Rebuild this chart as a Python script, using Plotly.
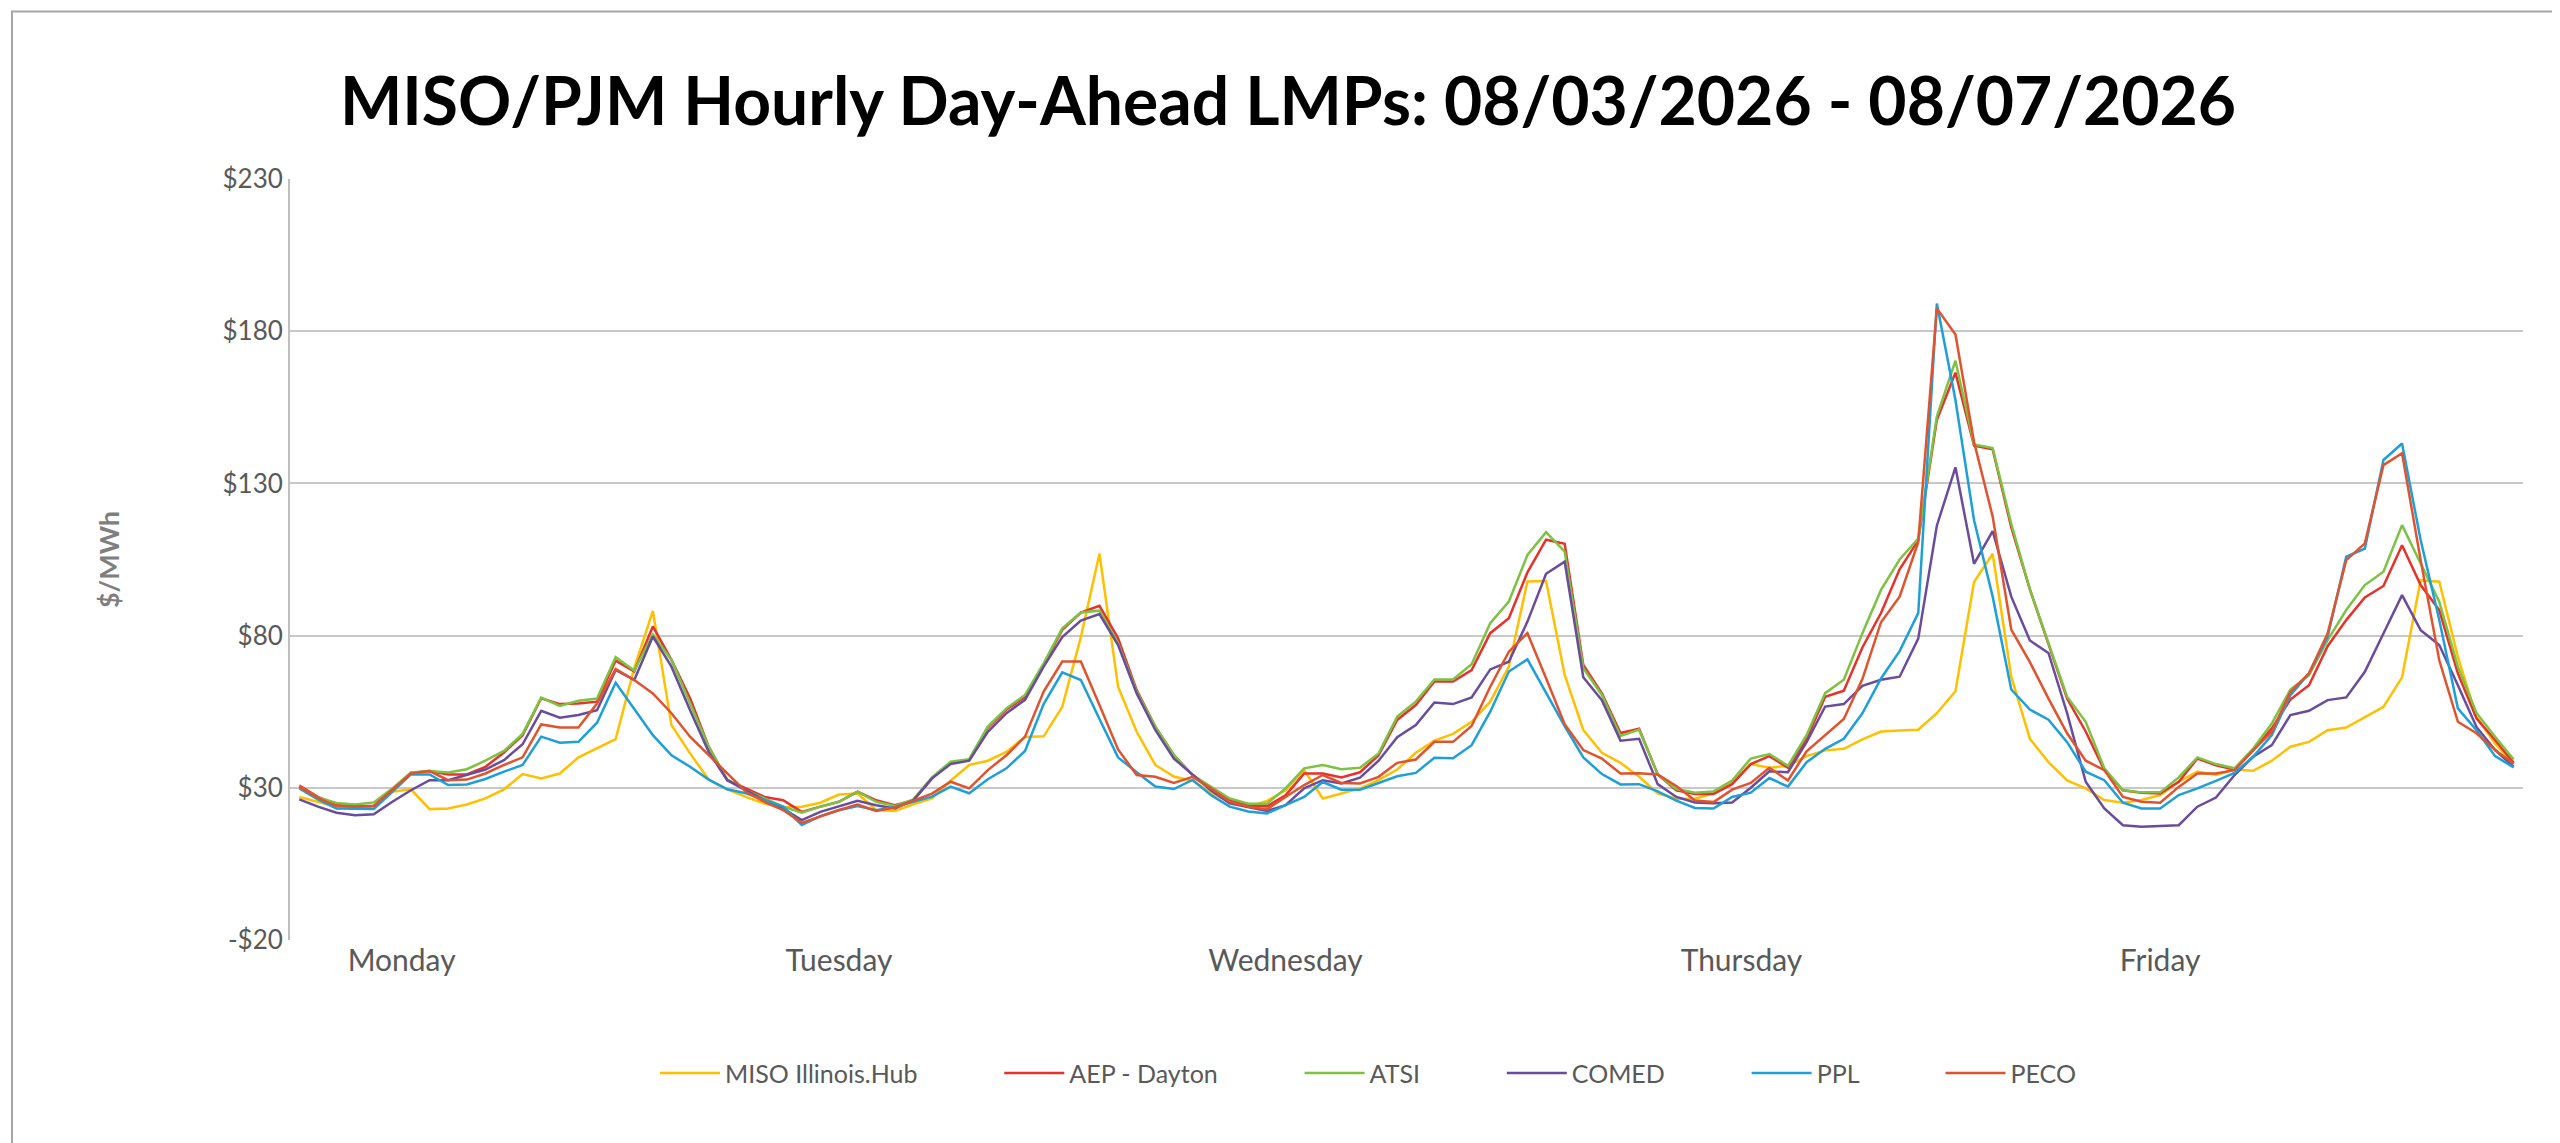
import plotly.graph_objects as go

# hourly day-ahead LMPs, 5 days x 24 hours
miso = [27.0,25.4,23.8,23.4,24.0,28.7,29.5,23.0,23.2,24.5,26.5,29.5,34.5,33.1,34.7,40.0,43.0,46.0,69.3,88.1,50.6,41.3,32.7,29.5,
        27.0,24.8,23.5,23.8,25.1,27.8,28.1,22.7,22.4,24.6,26.5,32.3,37.5,38.9,41.8,46.7,46.9,56.6,79.5,106.9,63.2,48.4,37.5,33.7,
        32.3,28.4,25.4,23.8,25.7,29.2,35.8,26.5,28.1,29.8,32.5,36.0,41.5,45.5,47.7,51.7,58.3,69.8,97.8,97.9,67.1,49.0,41.5,38.2,
        33.6,28.2,26.4,26.4,28.2,31.8,37.8,36.6,37.2,40.4,42.3,42.8,45.9,48.5,48.8,49.1,54.5,61.7,97.6,106.9,66.5,46.1,38.4,32.4,
        29.8,26.0,25.1,26.0,27.6,32.0,35.3,34.2,36.0,35.6,38.9,43.5,45.1,48.9,49.8,53.1,56.6,66.3,98.2,97.7,73.0,53.3,44.6,38.0]
aep = [30.7,27.0,24.5,24.0,24.0,29.2,34.9,35.5,34.4,34.4,36.9,41.6,47.3,59.4,57.5,57.7,58.3,71.8,68.2,83.0,72.0,59.4,43.5,32.5,
       29.8,27.0,25.9,22.1,23.8,25.4,28.7,25.9,24.3,25.9,33.1,38.2,39.1,49.8,55.7,59.9,70.4,81.9,87.6,89.8,79.1,62.1,50.1,40.7,
       34.2,29.7,26.1,24.3,23.9,27.5,34.7,34.7,33.4,35.1,40.7,52.3,57.2,64.9,64.9,68.7,80.8,85.7,100.8,111.5,110.2,70.4,61.0,48.0,
       49.4,34.4,29.2,28.0,28.0,31.2,37.8,40.4,36.6,46.1,59.9,61.9,76.1,87.4,101.8,111.3,150.8,166.4,142.4,141.2,115.5,95.2,77.2,59.3,
       48.5,35.8,29.2,28.4,28.1,32.0,39.6,37.4,36.0,42.4,49.5,59.0,63.7,76.5,85.1,92.5,96.3,109.7,96.6,88.4,67.6,52.8,45.7,38.2]
atsi = [30.3,26.8,25.0,24.5,25.2,29.8,35.0,35.5,35.0,36.1,38.9,42.1,47.7,59.6,56.9,58.6,59.3,72.9,68.5,80.4,72.0,57.7,43.5,32.7,
        29.2,26.5,23.8,21.8,23.8,25.4,28.7,25.4,24.0,26.2,33.4,38.6,39.4,50.1,56.1,60.5,70.9,82.4,87.6,88.2,77.5,61.6,50.1,40.7,
        34.2,30.3,26.5,24.8,24.8,29.8,36.4,37.5,36.1,36.6,41.3,53.4,58.3,65.6,65.6,70.6,84.1,91.2,106.5,114.0,107.6,69.3,60.5,47.0,
        49.1,34.4,29.6,28.4,28.8,32.4,39.6,41.1,37.2,47.3,61.1,65.5,80.8,95.0,105.0,111.9,152.0,170.3,142.8,141.6,116.7,95.2,77.2,59.9,
        51.7,36.4,29.2,28.5,28.5,33.4,40.0,37.8,36.4,42.9,51.1,62.3,67.0,78.5,88.4,96.6,101.0,116.3,103.7,91.1,69.8,54.6,46.8,39.3]
comed = [26.2,23.8,21.8,21.0,21.3,25.4,29.2,32.5,32.5,34.2,36.0,39.1,44.3,55.3,53.0,53.9,55.5,68.7,65.4,79.7,69.8,55.5,41.8,32.5,
         29.2,25.9,23.2,19.4,22.1,24.0,25.7,24.3,23.2,25.9,33.1,37.8,38.9,48.4,54.5,58.9,69.8,79.5,84.9,87.1,76.9,61.0,49.0,39.6,
         34.2,29.1,24.9,23.6,22.4,24.3,29.8,32.5,31.4,33.3,38.9,46.6,50.6,58.0,57.5,59.7,68.9,71.4,84.6,100.3,104.3,66.3,58.8,45.5,
         46.1,31.2,27.0,25.2,24.9,25.2,30.0,35.4,35.1,45.0,56.7,57.5,63.5,65.5,66.5,79.0,116.1,135.3,103.6,114.3,92.8,78.4,74.3,54.5,
         32.0,23.2,17.7,17.2,17.4,17.7,23.8,26.8,34.2,40.2,44.0,53.9,55.3,58.8,59.7,68.1,80.7,93.3,81.8,76.9,63.7,50.0,42.4,36.9]
ppl = [29.8,26.2,23.2,23.0,23.0,28.7,34.4,34.4,30.9,31.1,32.9,35.3,37.5,46.8,44.8,45.1,51.4,64.5,56.1,47.3,40.7,36.9,32.7,29.5,
       28.2,26.0,23.8,17.8,20.7,22.6,24.0,22.6,23.7,25.4,27.1,30.4,28.2,32.8,36.4,42.1,57.5,67.9,65.4,52.6,40.0,35.1,30.4,29.6,
       32.6,27.6,23.8,22.2,21.6,24.3,27.0,31.9,29.4,29.4,31.6,33.8,34.9,39.9,39.7,44.0,55.0,68.2,72.2,61.0,50.3,40.0,34.5,31.1,
       31.2,28.8,25.8,23.4,23.2,27.0,28.4,33.2,30.4,38.4,42.8,46.1,54.5,65.9,74.9,87.4,189.1,157.4,117.9,92.8,62.3,55.7,52.4,45.0,
       35.3,32.5,25.1,23.2,23.2,27.6,29.8,32.3,34.9,40.2,47.3,60.4,67.6,79.6,105.9,108.6,137.7,143.1,111.4,85.1,56.1,48.9,40.4,36.7]
peco = [30.3,26.7,24.0,23.8,24.0,29.2,34.7,35.5,32.5,32.7,34.7,37.5,40.0,50.8,49.8,49.8,57.7,69.0,65.4,61.0,54.5,46.8,40.7,34.7,
        28.7,25.4,22.7,18.5,20.7,22.7,24.5,22.4,23.5,25.9,28.1,32.0,29.8,35.8,40.7,46.8,61.6,71.5,71.5,57.2,42.6,34.2,33.6,31.6,
        33.6,29.8,25.4,23.8,22.9,27.0,30.9,34.2,31.6,31.4,33.6,38.2,39.3,45.1,45.1,50.3,63.2,74.7,80.8,66.0,50.9,42.4,39.6,34.7,
        34.8,34.4,30.6,25.8,25.3,29.4,31.6,36.6,32.4,42.0,47.3,52.6,65.7,84.4,92.8,110.7,187.5,178.9,143.6,119.1,82.0,71.3,59.3,47.9,
        38.9,35.8,27.0,25.4,25.1,30.3,34.7,34.7,35.8,42.4,48.4,61.5,67.6,80.7,104.8,110.3,136.0,139.9,104.8,71.9,51.7,47.9,42.4,38.0]

names = ["MISO Illinois.Hub", "AEP - Dayton", "ATSI", "COMED", "PPL", "PECO"]
colors = ["#FFC000", "#E8312A", "#7DC242", "#6A4C9C", "#1E9FD8", "#E0532E"]
days = ["Monday", "Tuesday", "Wednesday", "Thursday", "Friday"]
day_pos = [5.5, 29, 53, 77.5, 100]
y_ticks = [-20, 30, 80, 130, 180, 230]
hours = list(range(120))

fig = go.Figure()
for name, vals, col in zip(names, [miso, aep, atsi, comed, ppl, peco], colors):
    # trailing spaces widen the gap between legend entries like the original
    fig.add_trace(go.Scatter(x=hours, y=vals, name=name + "\u00a0" * 12, mode="lines",
                             line=dict(color=col, width=2.5)))

fig.update_layout(
    width=2560, height=1143,
    paper_bgcolor="white", plot_bgcolor="white",
    margin=dict(l=282, r=45, t=171, b=211),
    font=dict(family="Lato, Open Sans, sans-serif", color="#595959"),
    title=dict(text="<b>MISO/PJM Hourly Day-Ahead LMPs: 08/03/2026 - 08/07/2026</b>",
               x=0.5, xanchor="center", y=0.918, yanchor="middle",
               font=dict(size=66, color="black")),
    legend=dict(orientation="h", x=0.5, xanchor="center", y=-0.175, yanchor="middle",
                font=dict(size=25, color="#595959"), itemwidth=60),
    showlegend=True,
)
fig.update_xaxes(range=[-0.5, 119.5], tickmode="array", tickvals=day_pos, ticktext=days,
                 showgrid=False, zeroline=False, showline=False, ticks="",
                 tickfont=dict(size=30, color="#595959"))
fig.update_yaxes(range=[-20, 230], tickmode="array", tickvals=y_ticks,
                 ticktext=["-$20" if v < 0 else "$" + str(v) for v in y_ticks],
                 showgrid=True, gridcolor="#C8C8C8", gridwidth=2, zeroline=False,
                 showline=True, linecolor="#BFBFBF", linewidth=2,
                 tickfont=dict(size=26, color="#595959"),
                 title=dict(text="<b>$/MWh</b>", font=dict(size=27, color="#7F7F7F"), standoff=95))

# outer chart border
fig.add_shape(type="rect", xref="paper", yref="paper",
              x0=-0.1245, x1=1.0165, y0=-0.268, y1=1.22,
              line=dict(color="#A6A6A6", width=2))

fig.write_html("out.html")
